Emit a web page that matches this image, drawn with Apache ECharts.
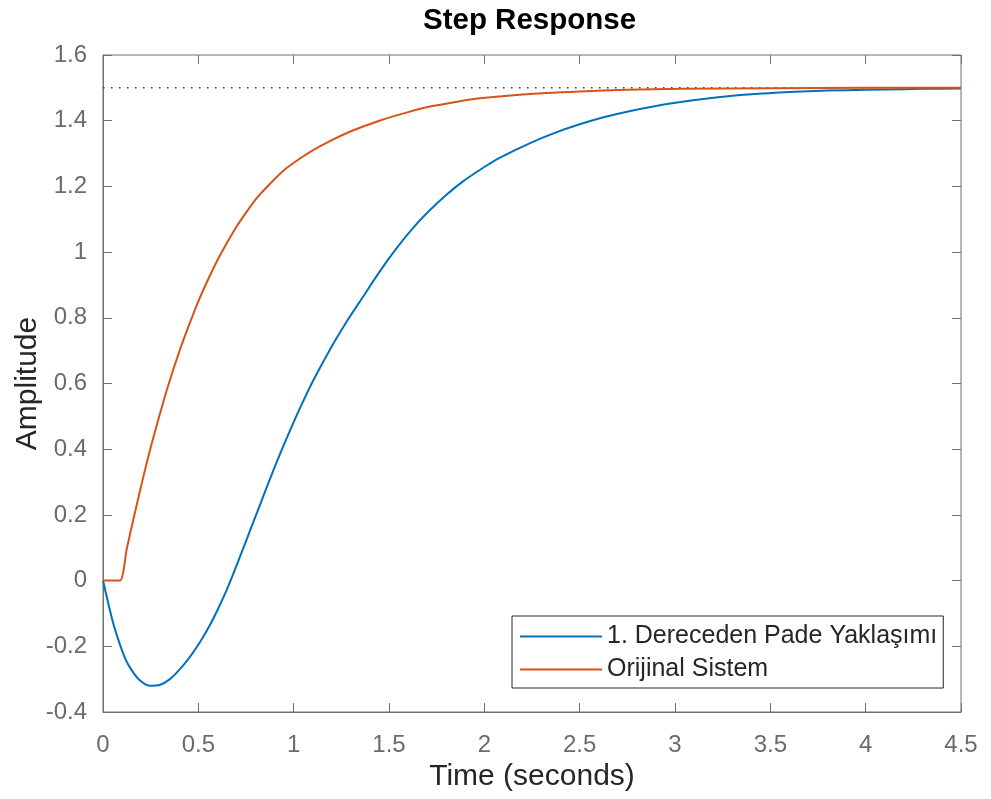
<!DOCTYPE html>
<html>
<head>
<meta charset="utf-8">
<script src="https://cdn.jsdelivr.net/npm/echarts@6/dist/echarts.min.js"></script>
<style>
html,body{margin:0;padding:0;background:#fff;}
#chart{width:991px;height:799px;}
</style>
</head>
<body>
<div id="chart"></div>
<script>
// Data
var chartTitle = 'Step Response';
var xName = 'Time (seconds)';
var yName = 'Amplitude';
var seriesNames = ['1. Dereceden Pade Yaklaşımı', 'Orijinal Sistem'];
var xTickLabels = ['0','0.5','1','1.5','2','2.5','3','3.5','4','4.5'];
var yTickLabels = ['-0.4','-0.2','0','0.2','0.4','0.6','0.8','1','1.2','1.4','1.6'];
var finalValue = 1.5;

var tPade = [0,0.02,0.037,0.06,0.089,0.115,0.142,0.19,0.246,0.3,0.351,0.4,0.456,0.51,0.561,0.61,0.655,0.72,0.771,0.823,0.876,0.928,0.98,1.033,1.1,1.19,1.28,1.365,1.45,1.54,1.63,1.715,1.8,1.89,2.0,2.08,2.24,2.37,2.5,2.63,2.76,2.9,3.03,3.16,3.29,3.42,3.55,3.7,3.9,4.1,4.3,4.5];
var yPade = [0,-0.05,-0.092,-0.143,-0.195,-0.235,-0.265,-0.302,-0.32,-0.317,-0.3,-0.272,-0.232,-0.186,-0.135,-0.078,-0.02,0.075,0.152,0.23,0.31,0.385,0.456,0.525,0.606,0.703,0.79,0.865,0.94,1.012,1.076,1.128,1.174,1.216,1.259,1.287,1.332,1.363,1.389,1.411,1.429,1.445,1.457,1.467,1.475,1.481,1.486,1.49,1.493,1.495,1.497,1.498];

var tOrig = [0,0.09,0.124,0.159,0.211,0.25,0.29,0.342,0.4,0.456,0.5,0.55,0.6,0.64,0.7,0.75,0.8,0.876,0.95,1.033,1.1,1.19,1.3,1.45,1.6,1.715,1.85,1.977,2.2,2.5,2.75,3.03,3.5,4.0,4.5];
var yOrig = [0,0,0.095,0.186,0.315,0.405,0.49,0.594,0.697,0.785,0.85,0.915,0.975,1.018,1.077,1.12,1.16,1.208,1.25,1.285,1.31,1.338,1.368,1.4,1.426,1.443,1.457,1.468,1.48,1.489,1.494,1.497,1.499,1.5,1.5];

function pairs(xs, ys){ var out=[]; for(var i=0;i<xs.length;i++){ out.push([xs[i], ys[i]]); } return out; }
function nearestLabel(list, v){
  var best = list[0], bd = Infinity;
  for (var i=0;i<list.length;i++){ var d=Math.abs(parseFloat(list[i])-v); if(d<bd){bd=d;best=list[i];} }
  return best;
}

var FONT = '"Liberation Sans", Arial, Helvetica, sans-serif';
var AXIS_COLOR = '#707070';
var LABEL_COLOR = '#6b6b6b';
var TEXT_DARK = '#262626';

var chart = echarts.init(document.getElementById('chart'), null, {renderer:'canvas'});
var option = {
  backgroundColor: '#ffffff',
  animation: false,
  title: {
    text: chartTitle,
    left: 418,
    top: 1,
    textStyle: {fontFamily: FONT, fontSize: 29.5, fontWeight: 'bold', color: '#000'}
  },
  grid: {left: 103, right: 30, top: 55, bottom: 87, show: true, borderColor: AXIS_COLOR, borderWidth: 1, backgroundColor: '#fff'},
  legend: {
    data: seriesNames,
    orient: 'vertical',
    left: 512, top: 616,
    padding: [8, 6, 6, 8],
    itemGap: 8,
    itemWidth: 82,
    itemHeight: 2,
    icon: 'rect',
    borderColor: TEXT_DARK,
    borderWidth: 1,
    backgroundColor: '#fff',
    textStyle: {fontFamily: FONT, fontSize: 25, color: TEXT_DARK, lineHeight: 25}
  },
  xAxis: [{
    type: 'value', min: 0, max: 4.5, interval: 0.5,
    name: xName, nameLocation: 'middle', nameGap: 47,
    nameTextStyle: {fontFamily: FONT, fontSize: 30, color: TEXT_DARK},
    axisLine: {show: true, onZero: false, lineStyle: {color: AXIS_COLOR, width: 1}},
    axisTick: {show: true, inside: true, length: 9, lineStyle: {color: AXIS_COLOR}},
    axisLabel: {margin: 21, fontFamily: FONT, fontSize: 24, color: LABEL_COLOR,
      formatter: function(v){ return nearestLabel(xTickLabels, v); }},
    splitLine: {show: false}
  },{
    type: 'value', min: 0, max: 4.5, interval: 0.5, position: 'top',
    axisLine: {show: false, onZero: false},
    axisTick: {show: true, inside: true, length: 9, lineStyle: {color: AXIS_COLOR}},
    axisLabel: {show: false}, splitLine: {show: false}
  }],
  yAxis: [{
    type: 'value', min: -0.4, max: 1.6, interval: 0.2,
    name: yName, nameLocation: 'middle', nameGap: 60, nameMoveOverlap: false,
    nameTextStyle: {fontFamily: FONT, fontSize: 30, color: TEXT_DARK},
    axisLine: {show: true, onZero: false, lineStyle: {color: AXIS_COLOR, width: 1}},
    axisTick: {show: true, inside: true, length: 9, lineStyle: {color: AXIS_COLOR}},
    axisLabel: {margin: 16, fontFamily: FONT, fontSize: 24, color: LABEL_COLOR,
      formatter: function(v){ return nearestLabel(yTickLabels, v); }},
    splitLine: {show: false}
  },{
    type: 'value', min: -0.4, max: 1.6, interval: 0.2, position: 'right',
    axisLine: {show: false, onZero: false},
    axisTick: {show: true, inside: true, length: 9, lineStyle: {color: AXIS_COLOR}},
    axisLabel: {show: false}, splitLine: {show: false}
  }],
  series: [
    {
      name: 'final', type: 'line', data: [[0, finalValue],[4.5, finalValue]],
      showSymbol: false, symbol: 'none', silent: true, z: 1,
      lineStyle: {color: '#333333', width: 1.5, type: [1.5, 6.5]}
    },
    {
      name: seriesNames[0], type: 'line', data: pairs(tPade, yPade),
      showSymbol: false, symbol: 'none', smooth: 0.3, z: 3,
      itemStyle: {color: '#0072BD'},
      lineStyle: {color: '#0072BD', width: 2}
    },
    {
      name: seriesNames[1], type: 'line', data: pairs(tOrig, yOrig),
      showSymbol: false, symbol: 'none', smooth: 0.2, z: 4,
      itemStyle: {color: '#D95319'},
      lineStyle: {color: '#D95319', width: 2}
    }
  ]
};
chart.setOption(option);
</script>
</body>
</html>
